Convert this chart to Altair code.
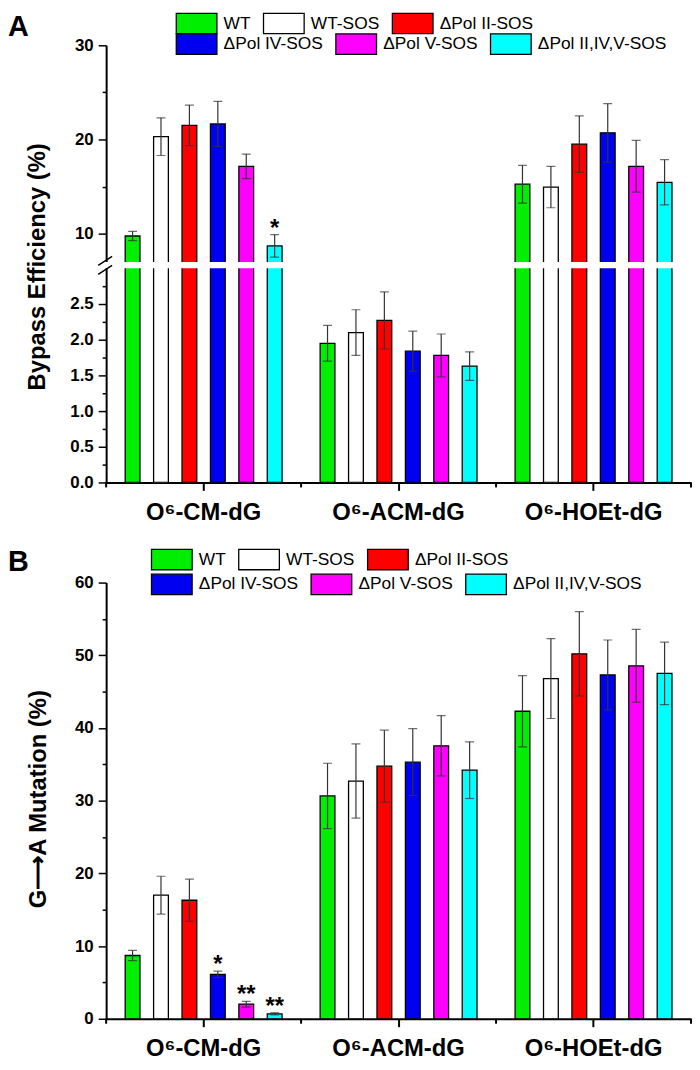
import altair as alt
import pandas as pd

FONT = "Liberation Sans"

series = ["WT", "WT-SOS", "ΔPol II-SOS", "ΔPol IV-SOS", "ΔPol V-SOS", "ΔPol II,IV,V-SOS"]
colors = ["#00ee00", "#ffffff", "#ff0000", "#0000f0", "#ff00ff", "#00ffff"]
lesions = ["O⁶-CM-dG", "O⁶-ACM-dG", "O⁶-HOEt-dG"]

# Panel A: bypass efficiency (%)
bypass_cm = [9.75, 20.3, 21.5, 21.65, 17.15, 8.7]
bypass_cm_err = [0.5, 2.0, 2.15, 2.4, 1.3, 1.2]
bypass_acm = [1.95, 2.10, 2.27, 1.84, 1.78, 1.63]
bypass_acm_err = [0.25, 0.32, 0.40, 0.28, 0.30, 0.20]
bypass_hoet = [15.25, 14.95, 19.5, 20.7, 17.15, 15.45]
bypass_hoet_err = [2.0, 2.2, 3.0, 3.1, 2.75, 2.4]

# Panel B: G->A mutation (%)
mut_cm = [8.7, 17.0, 16.3, 6.1, 2.0, 0.68]
mut_cm_err = [0.7, 2.6, 2.9, 0.45, 0.4, 0.15]
mut_acm = [30.65, 32.7, 34.75, 35.3, 37.55, 34.2]
mut_acm_err = [4.5, 5.1, 4.95, 4.6, 4.15, 3.9]
mut_hoet = [42.3, 46.8, 50.2, 47.3, 48.55, 47.5]
mut_hoet_err = [4.9, 5.5, 5.8, 4.8, 5.0, 4.3]

# significance marks
stars_a = [("O⁶-CM-dG", "ΔPol II,IV,V-SOS", "*")]
stars_b = [("O⁶-CM-dG", "ΔPol IV-SOS", "*"),
           ("O⁶-CM-dG", "ΔPol V-SOS", "**"),
           ("O⁶-CM-dG", "ΔPol II,IV,V-SOS", "**")]

# y-axis ticks
a_ticks = [0, 0.25, 0.5, 0.75, 1.0, 1.25, 1.5, 1.75, 2.0, 2.25, 2.5, 2.75, 10, 15, 20, 25, 30]
b_ticks = [0, 5, 10, 15, 20, 25, 30, 35, 40, 45, 50, 55, 60]


def make_df(vals, errs):
    rows = []
    for cat, vs, es in zip(lesions, vals, errs):
        for s, v, e in zip(series, vs, es):
            rows.append({"cat": cat, "series": s, "val": v, "lo": v - e, "hi": v + e})
    return pd.DataFrame(rows)


df_a = make_df([bypass_cm, bypass_acm, bypass_hoet], [bypass_cm_err, bypass_acm_err, bypass_hoet_err])
df_b = make_df([mut_cm, mut_acm, mut_hoet], [mut_cm_err, mut_acm_err, mut_hoet_err])
df_cats = pd.DataFrame({"cat": lesions})


def star_df(df, stars):
    s = pd.DataFrame(stars, columns=["cat", "series", "label"])
    return s.merge(df, on=["cat", "series"])


xaxis = alt.Axis(title=None, labelAngle=0, labelFont=FONT, labelFontSize=24, labelFontWeight="bold",
                 labelColor="black", labelPadding=10, tickSize=8, tickWidth=2, tickColor="black",
                 domainColor="black", domainWidth=2, grid=False)


def X(**kw):
    return alt.X("cat:N", sort=lesions, scale=alt.Scale(domain=lesions, paddingInner=0, paddingOuter=0),
                 axis=xaxis, **kw)


XO = alt.XOffset("series:N", sort=series,
                 scale=alt.Scale(domain=series, paddingInner=0.48, paddingOuter=0.67))


def legend(lx, ly):
    # 2:1 rectangle swatch (41 x 20.5 px)
    return alt.Legend(title=None, orient="none", legendX=lx, legendY=ly, direction="horizontal",
                      symbolType="M-2,-1H2V1H-2Z", symbolSize=420.25, symbolStrokeColor="black",
                      symbolStrokeWidth=1.3, symbolOpacity=1, labelFont=FONT, labelFontSize=17.5,
                      labelColor="black", labelOffset=16.25, columnPadding=9, padding=0)


def panel(df, stars, height, yscale, yaxis, leg_x, leg_y1, leg_y2, letter, letter_y, gap=None):
    def Y(f):
        return alt.Y(f, scale=yscale, axis=yaxis)

    base = alt.Chart(df)
    bars1 = base.transform_filter(
        alt.FieldOneOfPredicate(field="series", oneOf=series[:3])
    ).mark_bar(stroke="black", strokeWidth=1.3, clip=True).encode(
        x=X(), xOffset=XO, y=Y("val:Q"),
        fill=alt.Fill("series:N", sort=series[:3],
                      scale=alt.Scale(domain=series[:3], range=colors[:3]),
                      legend=legend(leg_x, leg_y1)),
    )
    bars2 = base.transform_filter(
        alt.FieldOneOfPredicate(field="series", oneOf=series[3:])
    ).mark_bar(stroke="black", strokeWidth=1.3, clip=True).encode(
        x=X(), xOffset=XO, y=Y("val:Q"),
        color=alt.Color("series:N", sort=series[3:],
                        scale=alt.Scale(domain=series[3:], range=colors[3:]),
                        legend=legend(leg_x, leg_y2)),
    )
    layers = [bars1, bars2]
    err = base.mark_rule(color="#333333", strokeWidth=1.2, clip=True).encode(
        x=X(), xOffset=XO, y=Y("lo:Q"), y2="hi:Q")
    cap_hi = base.mark_tick(color="#333333", thickness=1.2, size=9, orient="horizontal", clip=True).encode(
        x=X(), xOffset=XO, y=Y("hi:Q"))
    cap_lo = base.mark_tick(color="#333333", thickness=1.2, size=9, orient="horizontal", clip=True).encode(
        x=X(), xOffset=XO, y=Y("lo:Q"))
    layers += [err, cap_hi, cap_lo]
    # short category-boundary ticks on the x axis
    bticks = alt.Chart(df_cats).mark_rule(color="black", strokeWidth=2).encode(
        x=X(bandPosition=0), y=alt.value(height), y2=alt.value(height + 5))
    bend = alt.Chart(df_cats).transform_filter(
        alt.FieldEqualPredicate(field="cat", equal=lesions[-1])
    ).mark_rule(color="black", strokeWidth=2).encode(
        x=X(bandPosition=1), y=alt.value(height), y2=alt.value(height + 5))
    layers += [bticks, bend]
    if gap is not None:
        gap_df = pd.DataFrame({"g0": [gap[0]], "g1": [gap[1]]})
        white = alt.Chart(gap_df).mark_rect(color="white").encode(
            x=alt.value(-14), x2=alt.value(590), y=Y("g0:Q"), y2="g1:Q")
        brk = pd.DataFrame({"k": [0, 1]})
        br1 = alt.Chart(brk).transform_filter("datum.k == 0").mark_rule(color="black", strokeWidth=1.5).encode(
            x=alt.value(-8), x2=alt.value(6), y=alt.value(222), y2=alt.value(213))
        br2 = alt.Chart(brk).transform_filter("datum.k == 1").mark_rule(color="black", strokeWidth=1.5).encode(
            x=alt.value(-8), x2=alt.value(6), y=alt.value(231), y2=alt.value(222))
        layers += [white, br1, br2]
    st = alt.Chart(star_df(df, stars)).mark_text(font=FONT, fontSize=24, fontWeight="bold",
                                                 baseline="alphabetic", dy=1, color="black").encode(
        x=X(), xOffset=XO, y=Y("hi:Q"), text="label:N")
    lab = alt.Chart(pd.DataFrame({"t": [letter]})).mark_text(
        font=FONT, fontSize=29, fontWeight="bold", align="left", baseline="middle", color="black"
    ).encode(x=alt.value(-99), y=alt.value(letter_y), text="t:N")
    layers += [st, lab]
    return alt.layer(*layers).properties(width=590, height=height)


FMAJ_A = "(datum.value >= 10 ? datum.value % 10 == 0 : abs(datum.value * 2 - round(datum.value * 2)) < 0.001)"
yaxis_a = alt.Axis(
    values=a_ticks,
    labelExpr=FMAJ_A + " ? (datum.value >= 10 ? format(datum.value, 'd') : format(datum.value, '.1f')) : ''",
    tickSize={"condition": {"test": FMAJ_A, "value": 8}, "value": 4},
    tickWidth=1.5, tickColor="black", domainColor="black", domainWidth=2, grid=False,
    labelFont=FONT, labelFontSize=17, labelFontWeight="bold", labelColor="black", labelPadding=5,
    title="Bypass  Efficiency  (%)", titleFont=FONT, titleFontSize=24, titleFontWeight="bold",
    titleColor="black", titleX=-69, titleY=223, titleAngle=270, titleAlign="center", titleBaseline="middle",
)
yscale_a = alt.Scale(domain=[0, 3, 7, 30], range=[441, 225, 218.5, 0], nice=False, zero=False)

FMAJ_B = "(datum.value % 10 == 0)"
yaxis_b = alt.Axis(
    values=b_ticks,
    labelExpr=FMAJ_B + " ? format(datum.value, 'd') : ''",
    tickSize={"condition": {"test": FMAJ_B, "value": 8}, "value": 4},
    tickWidth=1.5, tickColor="black", domainColor="black", domainWidth=2, grid=False,
    labelFont=FONT, labelFontSize=17, labelFontWeight="bold", labelColor="black", labelPadding=5,
    title="G⟶A Mutation (%)", titleFont=FONT, titleFontSize=24, titleFontWeight="bold",
    titleColor="black", titleX=-68, titleY=218, titleAngle=270, titleAlign="center", titleBaseline="middle",
)
yscale_b = alt.Scale(domain=[0, 60], nice=False)

panel_a = panel(df_a, stars_a, 441, yscale_a, yaxis_a, 80.25, -33, -12.25, "A", -18, gap=(3, 7))
panel_b = panel(df_b, stars_b, 440, yscale_b, yaxis_b, 55.25, -34.25, -9.25, "B", -21)

chart = alt.vconcat(panel_a, panel_b, spacing=101, bounds="flush").resolve_scale(
    fill="independent", color="independent", y="independent"
).configure_view(strokeWidth=0).properties(padding={"left": 0, "top": 0, "right": 0, "bottom": -4})

chart.save("out.html", embed_options={"renderer": "svg", "actions": False})
